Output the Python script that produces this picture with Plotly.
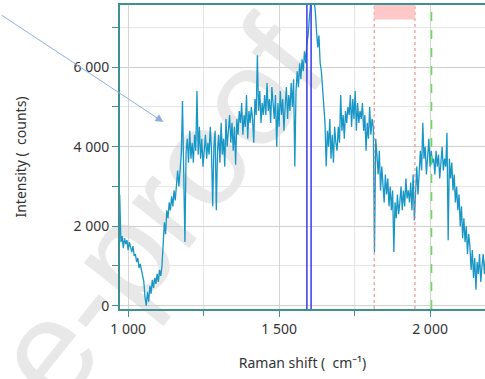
import numpy as np
import plotly.graph_objects as go

# Raman spectrum, sampled every 4 cm-1 starting at 972 cm-1
shift_start = 972
shift_step = 4
intensity = [
    2800, 1600, 1750, 1450, 1700, 1550, 1650, 1400, 1600, 1500,
    1350, 1500, 1250, 1300, 1100, 1200, 950, 1050, 900, 800,
    600, 200, 0, 350, 100, 500, 300, 650, 450, 700,
    550, 800, 600, 900, 750, 1000, 1600, 2100, 1800, 2400,
    2200, 2600, 2400, 2750, 2500, 2900, 2650, 3100, 3400, 3000,
    3500, 3800, 5150, 3300, 1600, 3900, 4200, 3600, 4400, 3700,
    4100, 3600, 4300, 3900, 5400, 3800, 4500, 3700, 4200, 3500,
    4000, 4300, 3700, 4100, 3800, 4500, 3900, 2500, 4000, 4400,
    2400, 3900, 4300, 3600, 4600, 3800, 4200, 3500, 4700, 4000,
    4400, 4800, 4100, 4600, 3900, 4500, 3550, 4700, 4300, 4900,
    4600, 5100, 4300, 4800, 4500, 5300, 4200, 4900, 4600, 5000,
    4700, 4100, 5200, 4800, 6300, 4900, 5400, 4600, 5100, 4800,
    5300, 4800, 5600, 4900, 5200, 4600, 5500, 5000, 4700, 5300,
    4000, 5100, 4500, 5400, 4800, 5200, 4400, 5000, 5500, 4700,
    5300, 4900, 5600, 5000, 5700, 3500, 5400, 5900, 5500, 6100,
    5700, 6200, 5900, 6400, 6100, 6600, 6800, 7200, 7600, 8100,
    8300, 7700, 7400, 6900, 6500, 6800, 6100, 5900, 5400, 5000,
    4600, 3500, 4400, 4000, 4700, 3700, 4300, 3600, 4500, 4100,
    3900, 4500, 4100, 5300, 4400, 4800, 4200, 4900, 4600, 5000,
    4800, 5300, 4500, 5200, 4700, 5400, 4400, 5100, 4600, 4900,
    4700, 5100, 4400, 4800, 3900, 4600, 4200, 5000, 4300, 4700,
    4500, 1350, 4200, 3800, 3300, 3900, 2900, 3500, 3100, 2600,
    3300, 2800, 3200, 2500, 3000, 2400, 2900, 1350, 2600, 2200,
    2800, 2300, 2600, 3000, 2400, 2900, 2500, 3200, 2700, 2900,
    2600, 3100, 2400, 3300, 2150, 3000, 3500, 2800, 3600, 3900,
    3400, 4600, 3700, 4000, 3300, 3800, 4200, 3500, 3900, 3600,
    3700, 3300, 3900, 3500, 3800, 3200, 3600, 4000, 3400, 3700,
    3500, 4350, 1650, 3700, 3200, 3600, 2900, 3300, 2600, 3000,
    2400, 2800, 2000, 2500, 1700, 2200, 1600, 2000, 1300, 1800,
    1500, 900, 1400, 700, 1200, 400, 1100, 800, 1300, 600,
    1000, 1300, 800, 1200,
]
raman_shift = shift_start + shift_step * np.arange(len(intensity))

# Marker lines and region
blue_lines = [1592, 1606]
red_lines = [1815, 1950]
green_line = 2005
band_top = [7200, 7600]

x_range = [973, 2182]
y_range = [-83, 7566]
y_tickvals = [0, 2000, 4000, 6000]
y_ticktext = ["0", "2 000", "4 000", "6 000"]
x_tickvals = [1000, 1500, 2000]
x_ticktext = ["1 000", "1 500", "2 000"]

teal = "#3f9090"
font_family = "Noto Sans, Open Sans, sans-serif"

fig = go.Figure()
fig.add_trace(go.Scatter(
    x=raman_shift, y=intensity, mode="lines",
    line=dict(color="#1896c6", width=1.3),
    hoverinfo="skip", showlegend=False,
))

for xv in blue_lines:
    fig.add_shape(type="line", xref="x", yref="paper", x0=xv, x1=xv, y0=0, y1=1,
                  line=dict(color="#3a3ae8", width=1.5))
for xv in red_lines:
    fig.add_shape(type="line", xref="x", yref="paper", x0=xv, x1=xv, y0=0, y1=1,
                  line=dict(color="#e88080", width=1, dash="dot"))
fig.add_shape(type="line", xref="x", yref="paper", x0=green_line, x1=green_line, y0=0, y1=1,
              line=dict(color="#66dd55", width=1.5, dash="dash"))
fig.add_shape(type="rect", xref="x", yref="y", x0=red_lines[0], x1=red_lines[1],
              y0=band_top[0], y1=band_top[1], line=dict(width=0),
              fillcolor="rgba(255,190,190,0.85)")

# Watermark along a diagonal, drawn under the data
fig.add_shape(type="line", xref="paper", yref="paper",
              x0=-0.29, y0=-0.20, x1=0.44, y1=0.90,
              line=dict(color="rgba(0,0,0,0)", width=0), layer="below",
              label=dict(text="e-proof", textposition="middle", yanchor="middle",
                         font=dict(size=138, color="#e8e8e8", family="Liberation Sans, Arial, sans-serif")))

# Pointer arrow
fig.add_annotation(x=1117, y=4620, xref="x", yref="y", text="", showarrow=True,
                   ax=-185, ay=-108, arrowhead=2, arrowsize=1.6, arrowwidth=1,
                   arrowcolor="#8fb0dc")

fig.update_layout(
    width=485, height=379,
    margin=dict(l=120, r=0, t=5, b=70),
    paper_bgcolor="white", plot_bgcolor="rgba(0,0,0,0)",
    font=dict(family=font_family, size=14, color="#333333"),
    showlegend=False,
)
fig.update_xaxes(
    range=x_range, tickvals=x_tickvals, ticktext=x_ticktext,
    showline=True, mirror=True, linecolor=teal, linewidth=2,
    ticks="outside", ticklen=6, tickcolor=teal, tickwidth=1,
    showgrid=True, gridcolor="#d4d4d4", gridwidth=1, zeroline=False,
    minor=dict(tickvals=[1250, 1750], ticks="outside", ticklen=5, tickcolor=teal,
               showgrid=True, gridcolor="#e6e6e6"),
    title=dict(text="Raman shift ( \u00a0cm\u207b\u00b9)", standoff=21,
               font=dict(size=14, color="#333333")),
    tickfont=dict(size=14, color="#333333"),
)
fig.update_yaxes(
    range=y_range, tickvals=y_tickvals, ticktext=y_ticktext,
    showline=True, mirror=False, linecolor=teal, linewidth=2,
    ticks="outside", ticklen=6, tickcolor=teal, tickwidth=1,
    showgrid=True, gridcolor="#cfcfcf", gridwidth=1, zeroline=False,
    minor=dict(tickvals=[1000, 3000, 5000, 7000], ticks="outside", ticklen=6, tickcolor=teal,
               showgrid=True, gridcolor="#e6e6e6"),
    title=dict(text="Intensity ( \u00a0counts)", standoff=44,
               font=dict(size=14, color="#333333")),
    tickfont=dict(size=14, color="#333333"),
)

fig.write_html("out.html")
